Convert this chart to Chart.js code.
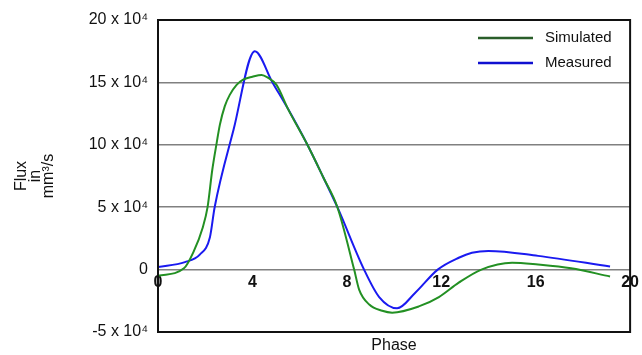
<!DOCTYPE html>
<html>
<head>
<meta charset="utf-8">
<title>Flux</title>
<script src="https://cdn.jsdelivr.net/npm/chart.js@4.4.0/dist/chart.umd.min.js"></script>
<style>
	html, body { margin: 0; padding: 0; background: #fff; }
	#wrap { width: 642px; height: 355px; }
</style>
</head>
<body>
<div id="wrap"><canvas id="myChart"></canvas></div>
<script>
// dane (y w jednostkach 10^4 mm3/s)
const simPhase = [0, 1.1, 1.5, 1.9, 2.1, 2.3, 2.49, 2.62, 2.83, 3.04, 3.33, 3.59, 4.0, 4.39, 4.64, 5.02, 5.5, 6.33, 7.0, 7.6, 8.31, 8.52, 8.95, 9.5, 9.92, 11.05, 11.9, 12.74, 13.7, 15.0, 16.1, 17.5, 19.15];
const simFlux  = [-0.5, 0.1, 1.4, 3.4, 5.0, 8.0, 10.2, 11.6, 13.1, 14.0, 14.8, 15.2, 15.45, 15.6, 15.4, 14.8, 12.9, 10, 7.4, 5, 0, -1.6, -2.8, -3.3, -3.45, -2.95, -2.2, -1.05, 0, 0.55, 0.4, 0.1, -0.55];
const measPhase = [0, 1.14, 1.77, 2.2, 2.4, 3.2, 4.1, 4.85, 5.5, 6.33, 7.0, 7.6, 8.73, 9.37, 10.13, 10.9, 11.85, 12.74, 13.3, 14.0, 16.1, 19.15];
const measFlux  = [0.2, 0.6, 1.2, 2.6, 5.0, 11.2, 17.5, 15, 12.9, 10, 7.4, 5, 0, -2.2, -3.1, -1.85, 0, 0.95, 1.35, 1.5, 1.1, 0.25];
const seriesNames = ['Simulated', 'Measured'];
const yTicks = [-5, 0, 5, 10, 15, 20];
const xTicks = [0, 4, 8, 12, 16, 20];

const font = "'Liberation Sans', Arial, sans-serif";

function points (xs, ys) {
	return xs.map(function (x, i) { return {x: x, y: ys[i]}; });
}

// ramka + legenda rysowane recznie
const framePlugin = {
	id: 'frame',
	afterDraw: function (chart) {
		const ctx = chart.ctx;
		const a = chart.chartArea;
		ctx.save();
		ctx.strokeStyle = '#111';
		ctx.lineWidth = 2;
		ctx.strokeRect(a.left, a.top, a.right - a.left, a.bottom - a.top);
		// legenda
		const rows = [{y: 38, color: '#2a5e2a'}, {y: 63, color: '#1010d0'}];
		ctx.font = '15px ' + font;
		ctx.textBaseline = 'middle';
		ctx.fillStyle = '#111';
		rows.forEach(function (r, i) {
			ctx.strokeStyle = r.color;
			ctx.lineWidth = 2.5;
			ctx.beginPath();
			ctx.moveTo(478, r.y);
			ctx.lineTo(533, r.y);
			ctx.stroke();
			ctx.fillText(seriesNames[i], 545, r.y);
		});
		ctx.restore();
	}
};

new Chart(document.getElementById('myChart').getContext('2d'), {
	type: 'line',
	data: {
		datasets: [{
			label: seriesNames[0],
			data: points(simPhase, simFlux),
			borderColor: '#239023',
			borderWidth: 2,
			pointRadius: 0,
			cubicInterpolationMode: 'monotone',
			fill: false
		}, {
			label: seriesNames[1],
			data: points(measPhase, measFlux),
			borderColor: '#1a1af0',
			borderWidth: 2,
			pointRadius: 0,
			cubicInterpolationMode: 'monotone',
			fill: false
		}]
	},
	options: {
		responsive: true,
		maintainAspectRatio: false,
		animation: false,
		layout: { padding: { top: 20, right: 10, left: 0, bottom: 0 } },
		plugins: {
			legend: { display: false },
			tooltip: { enabled: false }
		},
		scales: {
			x: {
				type: 'linear',
				min: 0,
				max: 20,
				afterFit: function (scale) { scale.height = 23; },
				grid: { display: false },
				border: { display: false },
				ticks: { display: false },
				title: {
					display: true,
					text: 'Phase',
					color: '#111',
					font: { family: font, size: 16 },
					padding: { top: 0, bottom: 0 }
				}
			},
			x2: {
				type: 'linear',
				position: { y: 0 },
				min: 0,
				max: 20,
				afterBuildTicks: function (scale) {
					scale.ticks = xTicks.map(function (v) { return {value: v}; });
				},
				grid: { display: false, tickLength: 0 },
				border: { display: false },
				ticks: {
					color: '#111',
					padding: 3,
					maxRotation: 0,
					font: { family: font, size: 16, weight: 'bold' }
				}
			},
			y: {
				type: 'linear',
				min: -5,
				max: 20,
				afterBuildTicks: function (scale) {
					scale.ticks = yTicks.map(function (v) { return {value: v}; });
				},
				afterFit: function (scale) { scale.width = 158; },
				grid: { color: '#808080', lineWidth: 1.5, drawTicks: false },
				border: { display: false },
				ticks: {
					color: '#111',
					padding: 10,
					font: { family: font, size: 16 },
					callback: function (v) { return v === 0 ? '0' : v + ' x 10\u2074'; }
				},
				title: {
					display: true,
					text: ['Flux', 'in', 'mm\u00b3/s'],
					color: '#111',
					font: { family: font, size: 16, lineHeight: 0.85 },
					padding: { top: 15, bottom: 0 }
				}
			}
		}
	},
	plugins: [framePlugin]
});
</script>
</body>
</html>
